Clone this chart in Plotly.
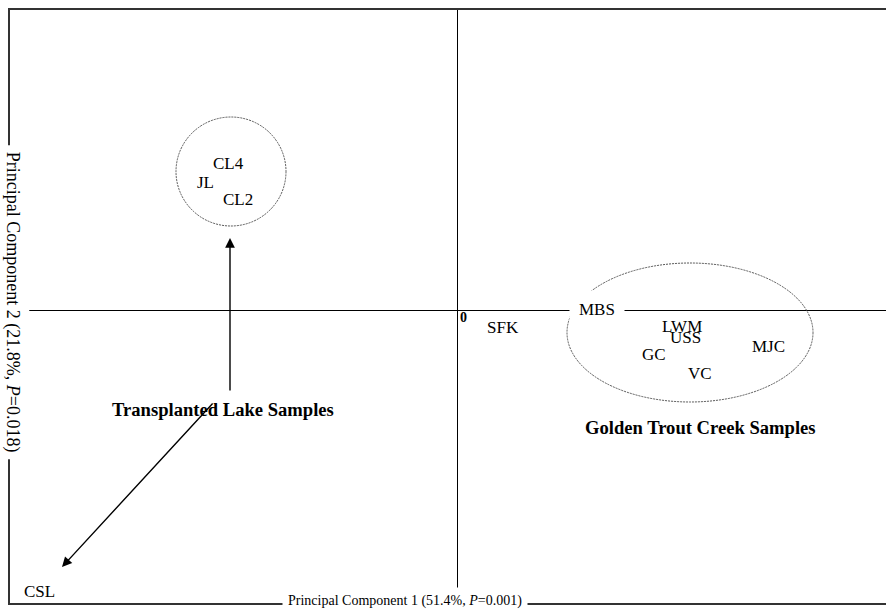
import plotly.graph_objects as go

# ---- data (PCA scores, arbitrary units; origin at 0,0) ----
sample_names = ["CL4", "JL", "CL2", "SFK", "MBS", "LWM", "USS", "GC", "VC", "MJC", "CSL"]
pc1_scores = [-2.29, -2.52, -2.19, 0.46, 1.40, 2.25, 2.28, 1.97, 2.43, 3.11, -4.18]
pc2_scores = [1.47, 1.28, 1.11, -0.17, 0.01, -0.16, -0.27, -0.44, -0.63, -0.36, -2.81]

group_names = ["Transplanted Lake Samples", "Golden Trout Creek Samples"]
group_x = [-2.34, 2.43]
group_y = [-0.99, -1.17]

x_title = "Principal Component 1 (51.4%, <i>P</i>=0.001)"
y_title = "Principal Component 2 (21.8%, <i>P</i>=0.018)"

FONT = "Liberation Serif, Times New Roman, serif"

fig = go.Figure()

annotations = []
for name, x, y in zip(sample_names, pc1_scores, pc2_scores):
    a = dict(x=x, y=y, xref="x", yref="y", text=name, showarrow=False,
             font=dict(family=FONT, size=17, color="black"))
    if name == "MBS":
        a.update(bgcolor="white", borderpad=9)
    annotations.append(a)

for name, x, y in zip(group_names, group_x, group_y):
    annotations.append(dict(x=x, y=y, xref="x", yref="y", text="<b>%s</b>" % name,
                            showarrow=False, font=dict(family=FONT, size=18.6, color="black")))

annotations.append(dict(x=0.06, y=-0.07, xref="x", yref="y", text="<b>0</b>", showarrow=False,
                        font=dict(family=FONT, size=14, color="black")))

annotations.append(dict(x=-2.27, y=0.72, ax=-2.27, ay=-0.82, xref="x", yref="y",
                        axref="x", ayref="y", text="", showarrow=True, arrowhead=2,
                        arrowsize=1.4, arrowwidth=1.4, arrowcolor="black"))
annotations.append(dict(x=-3.95, y=-2.57, ax=-2.43, ay=-0.92, xref="x", yref="y",
                        axref="x", ayref="y", text="", showarrow=True, arrowhead=2,
                        arrowsize=1.4, arrowwidth=1.4, arrowcolor="black"))

annotations.append(dict(x=0.451, y=0.0, xref="paper", yref="paper", text=x_title,
                        showarrow=False, xanchor="center", yanchor="middle", yshift=2,
                        bgcolor="white", borderpad=5,
                        font=dict(family=FONT, size=14, color="black")))
annotations.append(dict(x=0.0, y=0.508, xref="paper", yref="paper", text=y_title,
                        showarrow=False, xanchor="center", yanchor="middle", textangle=90,
                        xshift=2, bgcolor="white", borderpad=6,
                        font=dict(family=FONT, size=18, color="black")))

shapes = [
    dict(type="circle", xref="x", yref="y", x0=-2.81, x1=-1.71, y0=0.84, y1=1.93,
         line=dict(color="#555", width=1, dash="2px,1px")),
    dict(type="circle", xref="x", yref="y", x0=1.10, x1=3.56, y0=-0.92, y1=0.47,
         line=dict(color="#555", width=1, dash="2px,1px")),
]

fig.update_layout(
    width=886, height=609, autosize=False,
    margin=dict(l=10, r=0, t=10, b=6),
    paper_bgcolor="white", plot_bgcolor="white",
    showlegend=False,
    annotations=annotations, shapes=shapes,
    xaxis=dict(range=[-4.47, 4.29], showgrid=False, showticklabels=False, ticks="",
               zeroline=True, zerolinecolor="black", zerolinewidth=1.3,
               showline=True, mirror=True, linecolor="#333", linewidth=2),
    yaxis=dict(range=[-2.93, 3.00], showgrid=False, showticklabels=False, ticks="",
               zeroline=True, zerolinecolor="black", zerolinewidth=1.3,
               showline=True, mirror=False, linecolor="#333", linewidth=2),
)

fig.write_html("out.html", config={"displayModeBar": False},
               post_script="document.body.style.margin='0';document.body.style.padding='0';document.body.style.overflow='hidden';")
